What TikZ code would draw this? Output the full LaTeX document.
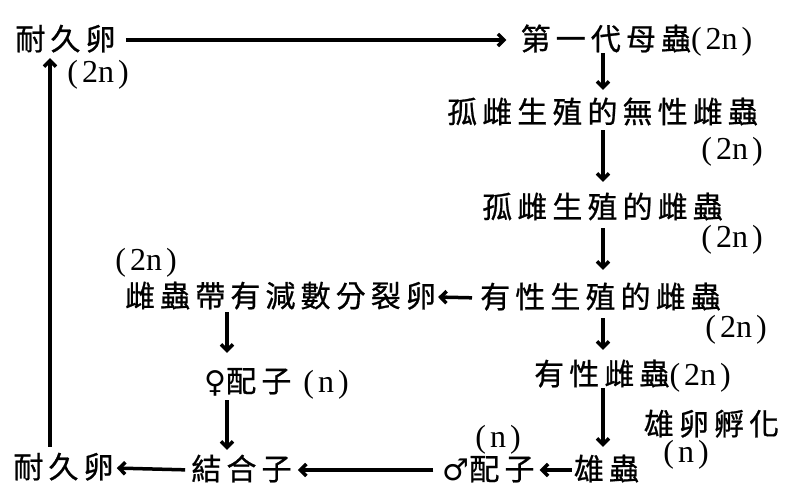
\documentclass[tikz,border=0pt]{standalone}
\usepackage{fontspec}
\newfontfamily\cjk[LetterSpace=17,FakeBold=0.8]{Noto Sans CJK TC}
\newfontfamily\latn{Liberation Serif}
\newfontfamily\sym{DejaVu Sans}
\usetikzlibrary{arrows.meta}
\tikzset {>={Straight Barb[length=6pt,width=12pt]}}
\tikzset{
  lbl/.style={inner sep=0pt,text height=25pt,text depth=5pt,xshift=2.5pt,
    font=\cjk\fontsize{30}{32}\selectfont},
  ploid/.style={inner sep=0pt,font=\latn\fontsize{32}{34}\selectfont},
  arr/.style={->,line width=3.5pt},
}
\newcommand\pn[1]{{\latn\fontsize{32}{34}\selectfont(\hspace{4pt}#1\hspace{4pt})}}

\begin{document}
\begin{tikzpicture}[x=1pt,y=-1pt]
\useasboundingbox (0,0) rectangle (786,502);

% columns of the vertical arrows
\coordinate (colE) at (50,0);
\coordinate (colL) at (227,0);
\coordinate (colR) at (603,0);

\node[lbl] (egg1)   at (63,40)   {耐久卵};
\node[ploid] (p1)   at (98,75)   {\pn{2n}};
\node[lbl] (mother) at (634,40)  {第一代母蟲\pn{2n}};
\node[lbl] (asex)   at (600,113) {孤雌生殖的無性雌蟲};
\node[ploid] (p2)   at (732,152) {\pn{2n}};
\node[lbl] (parth)  at (600,208) {孤雌生殖的雌蟲};
\node[ploid] (p3)   at (732,240) {\pn{2n}};
\node[lbl] (sexf)   at (598,298) {有性生殖的雌蟲};
\node[ploid] (p4)   at (736,330) {\pn{2n}};
\node[lbl] (meio)   at (278,297) {雌蟲帶有減數分裂卵};
\node[ploid] (p5)   at (146,263) {\pn{2n}};
\node[lbl] (sexfem) at (630,375) {有性雌蟲\pn{2n}};
\node[lbl] (hatch)  at (709,425) {雄卵孵化};
\node[ploid] (p6)   at (686,455) {\pn{n}};
\node[lbl] (male)   at (604,470) {雄蟲};
\node[lbl] (mgam)   at (486,470) {{\sym ♂}配子};
\node[ploid] (p7)   at (498,440) {\pn{n}};
\node[lbl] (fgam)   at (274,382) {{\sym ♀}配子\hspace{12pt}\pn{n}};
\node[lbl] (zyg)    at (239,470) {結合子};
\node[lbl] (egg2)   at (61,468)  {耐久卵};

% parthenogenetic line
\draw[arr,shorten <=10pt,shorten >=14pt] (egg1.east) -- (mother.west);
\draw[arr,shorten <=-2pt,shorten >=8pt] (mother.south -| colR) -- (asex.north -| colR);
\draw[arr,shorten <=2pt,shorten >=11pt] (asex.south -| colR) -- (parth.north -| colR);
\draw[arr,shorten <=5pt,shorten >=13pt] (parth.south -| colR) -- (sexf.north -| colR);
\draw[arr,shorten <=5pt,shorten >=10pt] (sexf.south -| colR) -- (sexfem.north -| colR);
\draw[arr,shorten <=-2pt,shorten >=8pt] (sexfem.south -| colR) -- (male.north -| colR);

% sexual part
\draw[arr,shorten <=8pt,shorten >=2pt] (sexf.west) -- (meio.east);
\draw[arr,shorten >=14pt] (meio.south -| colL) -- (fgam.north -| colL);
\draw[arr,shorten <=3pt,shorten >=5pt] (fgam.south -| colL) -- (zyg.north -| colL);
\draw[arr,shorten <=2pt,shorten >=5pt] (male.west) -- (mgam.east);
\draw[arr,shorten <=9pt,shorten >=6pt] (mgam.west) -- (zyg.east);
\draw[arr,shorten <=6pt,shorten >=3pt] (zyg.west) -- (egg2.east);
\draw[arr,shorten <=6pt,shorten >=3pt] (egg2.north -| colE) -- (egg1.south -| colE);

\end{tikzpicture}
\end{document}
